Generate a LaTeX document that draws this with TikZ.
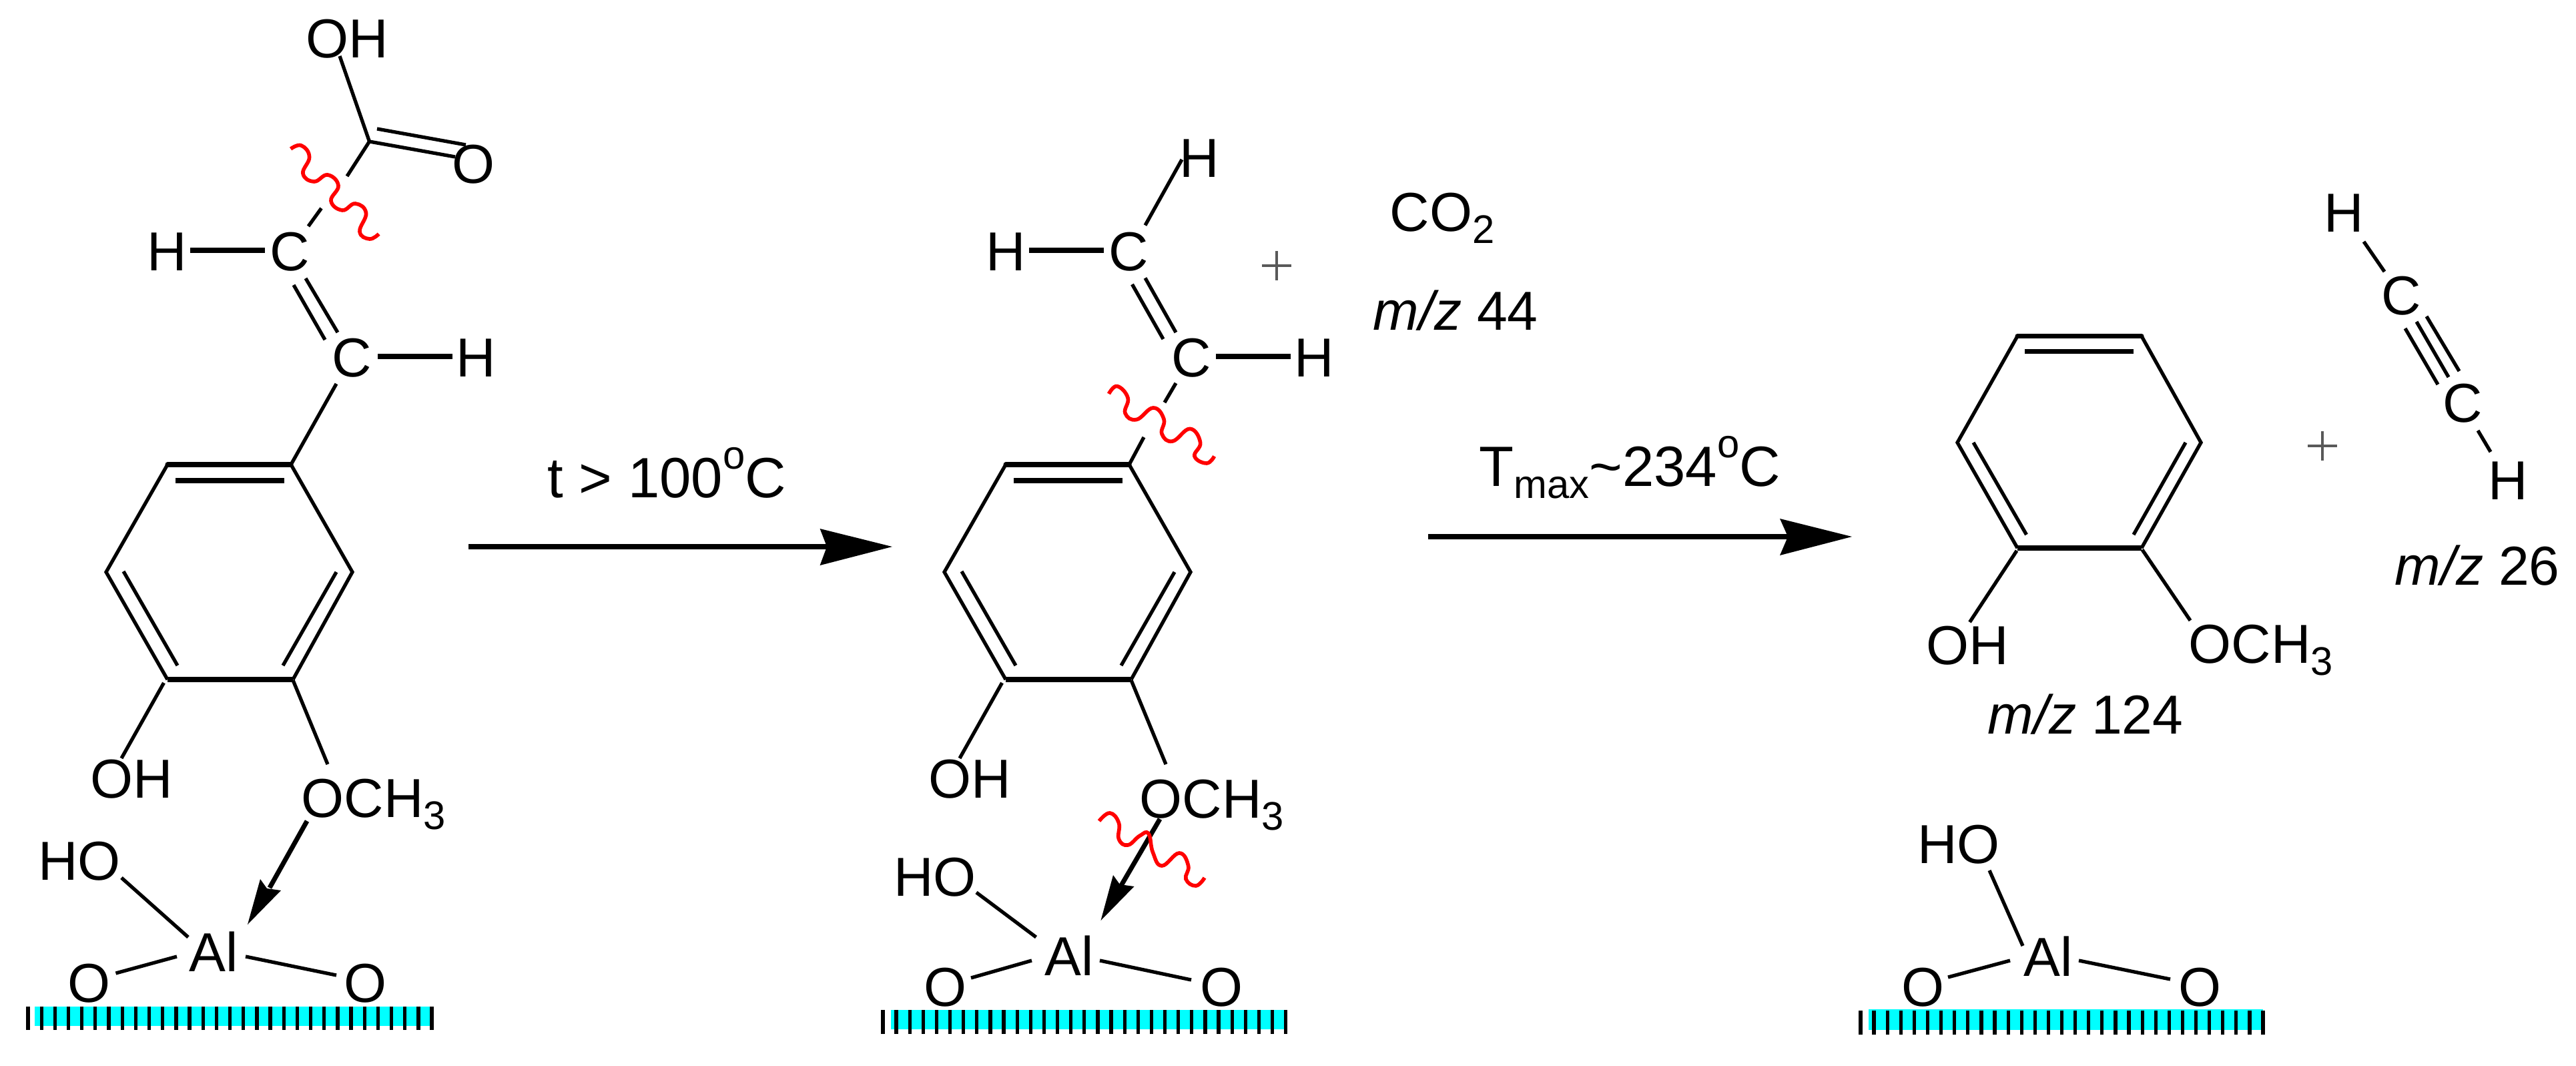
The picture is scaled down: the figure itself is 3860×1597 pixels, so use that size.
\documentclass[tikz,border=0pt]{standalone}
\usepackage{fontspec}
\setmainfont{Liberation Sans}
\definecolor{surf}{RGB}{0,255,255}
\newcommand{\lowr}[1]{\raisebox{-5.2pt}{\fontsize{17}{17}\selectfont #1}}
\newcommand{\upr}[1]{\raisebox{12pt}{\fontsize{17}{17}\selectfont #1}}
\tikzset{
  x=0.01cm,y=-0.01cm,
  atom/.style={inner sep=0pt,font=\fontsize{23.4}{28}\selectfont,text=black},
  lbl/.style={atom,anchor=base west},
  condlbl/.style={lbl,font=\fontsize{24.2}{28}\selectfont},
  bond/.style={line width=1.5pt,black},
  hbond/.style={line width=2pt,black},
  wave/.style={red,line width=1.6pt,smooth,tension=0.75},
  head/.style={fill=black,draw=none},
  cyanbar/.style={fill=surf,draw=none},
  tick/.style={line width=1.5pt,black},
  plussign/.style={line width=0.9pt,black!65},
  rarrow/.style={line width=2.2pt,black},
}
\begin{document}
\begin{tikzpicture}
\useasboundingbox (0,0) rectangle (3860,1597);
% ---- molecule 1
\node[atom] (a1) at (520,58) {OH};
\node[atom] (a2) at (709,246) {O};
\coordinate (a3) at (553.5,212);
\coordinate (a3b) at (565,193);
\coordinate (a3c) at (698,217);
\coordinate (a3d) at (682,235);
\coordinate (a3e) at (509,84);
\node[atom] (a4) at (434,377) {C};
\node[atom] (a5) at (250,377) {H};
\node[atom] (a6) at (527,536) {C};
\node[atom] (a7) at (713,536) {H};
\coordinate (r1) at (436,696);
\coordinate (r2) at (251,696);
\coordinate (r3) at (159,857);
\coordinate (r4) at (251,1018);
\coordinate (r5) at (439,1018);
\coordinate (r6) at (528,857);
\draw[bond] (a3e) -- (a3);
\draw[bond] (a3) -- (a3d);
\draw[bond] (a3b) -- (a3c);
\coordinate (b1) at (520,264); \coordinate (b2) at (481.5,312); \coordinate (b3) at (462,339);
\draw[bond] (a3) -- (b1);
\draw[bond] (b2) -- (b3);
\coordinate (b4) at (285,375); \coordinate (b5) at (397,375);
\draw[hbond] (b4) -- (b5);
\coordinate (b6) at (458,417); \coordinate (b7) at (506,498);
\coordinate (b8) at (440,427); \coordinate (b9) at (487,509);
\draw[bond] (b6) -- (b7); \draw[bond] (b8) -- (b9);
\coordinate (b10) at (566,534); \coordinate (b11) at (678,534);
\draw[hbond] (b10) -- (b11);
\coordinate (b12) at (504,575);
\draw[bond] (b12) -- (r1);
\draw[hbond,line cap=round] (r1) -- (r2);
\draw[bond] (r2) -- (r3) -- (r4);
\draw[hbond] (r4) -- (r5);
\draw[bond] (r5) -- (r6) -- (r1);
\coordinate (i1) at (263,720); \coordinate (i2) at (426,720);
\coordinate (i3) at (185,856); \coordinate (i4) at (266,997);
\coordinate (i5) at (504,857); \coordinate (i6) at (424,997);
\draw[hbond] (i1) -- (i2);
\draw[bond] (i3) -- (i4);
\draw[bond] (i5) -- (i6);
\node[atom] (a8) at (197,1167) {OH};
\node[lbl] (a9) at (451,1224) {OCH\lowr{3}};
\node[atom] (a10) at (119,1290) {HO};
\node[atom] (a11) at (320,1426) {Al};
\node[atom] (a12) at (134,1473) {O};
\node[atom] (a13) at (547,1473) {O};
\coordinate (c1) at (245.5,1023); \coordinate (c2) at (182,1136);
\draw[bond] (c1) -- (c2);
\coordinate (c3) at (439,1019); \coordinate (c4) at (491,1145);
\draw[bond] (c3) -- (c4);
\coordinate (c5) at (460,1230); \coordinate (c6) at (404,1330);
\draw[hbond] (c5) -- (c6);
\coordinate (c7) at (371,1385); \coordinate (c8) at (390,1317); \coordinate (c9) at (400,1331); \coordinate (c10) at (421,1334);
\fill[head] (c7) -- (c8) -- (c9) -- (c10) -- cycle;
\coordinate (c11) at (182,1315); \coordinate (c12) at (282,1404);
\draw[bond] (c11) -- (c12);
\coordinate (c13) at (173.5,1458); \coordinate (c14) at (265,1433);
\draw[bond] (c13) -- (c14);
\coordinate (c15) at (368,1433); \coordinate (c16) at (504,1461);
\draw[bond] (c15) -- (c16);
\fill[cyanbar] (52,1508) rectangle (647,1537);
\foreach \k in {0,...,30} \draw[tick] ({42+\k*20.17},1508) -- ({42+\k*20.17},1543);
\draw[wave] plot coordinates {(435.6,223) (451.5,218) (463.6,235) (454,260) (470.6,272) (491,262) (507,278) (496,301) (513,315) (532.5,305) (548.5,319) (539,347) (553.6,358) (567.6,350.5)};
% ---- arrow 1
\coordinate (s1) at (702,819); \coordinate (s2) at (1250,819);
\draw[rarrow] (s1) -- (s2);
\fill[head] (1337,819) -- (1228.6,792) -- (1239,819) -- (1228.6,847) -- cycle;
\node[condlbl] (t1) at (820,745) {t > 100\upr{o}C};
% ---- molecule 2
\node[atom] (m1) at (1797.6,237) {H};
\node[atom] (m2) at (1691,377) {C};
\node[atom] (m3) at (1507,377) {H};
\node[atom] (m4) at (1785,536) {C};
\node[atom] (m5) at (1969,536) {H};
\coordinate (n1) at (1716,337.5); \coordinate (n2) at (1771,239);
\draw[bond] (n1) -- (n2);
\coordinate (n3) at (1542,375); \coordinate (n4) at (1654,375);
\draw[hbond] (n3) -- (n4);
\coordinate (n5) at (1716,416.5); \coordinate (n6) at (1762,498);
\coordinate (n7) at (1696.5,426); \coordinate (n8) at (1743,508);
\draw[bond] (n5) -- (n6); \draw[bond] (n7) -- (n8);
\coordinate (n9) at (1822,534); \coordinate (n10) at (1934,534);
\draw[hbond] (n9) -- (n10);
\coordinate (n11) at (1762,574); \coordinate (n12) at (1745,603);
\coordinate (n13) at (1714,655);
\draw[bond] (n11) -- (n12);
\coordinate (q1) at (1692,696);
\coordinate (q2) at (1507,696);
\coordinate (q3) at (1415,857);
\coordinate (q4) at (1507,1018);
\coordinate (q5) at (1695,1018);
\coordinate (q6) at (1784,857);
\draw[bond] (n13) -- (q1);
\draw[hbond,line cap=round] (q1) -- (q2);
\draw[bond] (q2) -- (q3) -- (q4);
\draw[hbond] (q4) -- (q5);
\draw[bond] (q5) -- (q6) -- (q1);
\coordinate (j1) at (1519,720); \coordinate (j2) at (1682,720);
\coordinate (j3) at (1441,856); \coordinate (j4) at (1522,997);
\coordinate (j5) at (1760,857); \coordinate (j6) at (1680,997);
\draw[hbond] (j1) -- (j2);
\draw[bond] (j3) -- (j4);
\draw[bond] (j5) -- (j6);
\draw[wave] plot coordinates {(1661.5,590) (1674,578.6) (1690,596) (1686,619) (1703,628.6) (1728,611) (1744,628) (1741,650) (1757,661) (1783,642.4) (1798.6,663) (1790,683.5) (1808,694) (1819.6,683.5)};
\coordinate (p1) at (1891,398); \coordinate (p2) at (1935,398); \coordinate (p3) at (1913,376); \coordinate (p4) at (1913,420);
\draw[plussign] (p1) -- (p2); \draw[plussign] (p3) -- (p4);
\node[lbl] (co) at (2082,346) {CO\lowr{2}};
\node[lbl] (mz1) at (2057,494) {\textit{m/z} 44};
\node[atom] (m6) at (1453,1167) {OH};
\node[lbl] (m7) at (1707,1225) {OCH\lowr{3}};
\node[atom] (m8) at (1401,1314) {HO};
\node[atom] (m9) at (1602,1432) {Al};
\node[atom] (m10) at (1416,1479) {O};
\node[atom] (m11) at (1830,1479) {O};
\coordinate (e1) at (1501.5,1023); \coordinate (e2) at (1438,1136);
\draw[bond] (e1) -- (e2);
\coordinate (e3) at (1695,1019); \coordinate (e4) at (1747,1145);
\draw[bond] (e3) -- (e4);
\coordinate (e5) at (1738,1227); \coordinate (e6) at (1678,1330);
\draw[hbond] (e5) -- (e6);
\coordinate (e7) at (1649.5,1379); \coordinate (e8) at (1668,1311); \coordinate (e9) at (1678,1325); \coordinate (e10) at (1699.5,1328);
\fill[head] (e7) -- (e8) -- (e9) -- (e10) -- cycle;
\coordinate (e11) at (1463,1337); \coordinate (e12) at (1552.5,1404);
\draw[bond] (e11) -- (e12);
\coordinate (e13) at (1455,1465); \coordinate (e14) at (1546,1439);
\draw[bond] (e13) -- (e14);
\coordinate (e15) at (1648,1439); \coordinate (e16) at (1785,1468);
\draw[bond] (e15) -- (e16);
\fill[cyanbar] (1335,1513) rectangle (1926,1542);
\foreach \k in {0,...,30} \draw[tick] ({1323+\k*20.12},1513) -- ({1323+\k*20.12},1549);
\draw[wave] plot coordinates {(1647,1230) (1663,1218) (1676.5,1233) (1676.5,1257) (1690,1266) (1708,1252) (1721,1249) (1727.5,1277) (1741,1297) (1767,1278) (1780.6,1297) (1777,1317) (1792,1327) (1805,1315)};
% ---- arrow 2
\coordinate (s3) at (2140,804); \coordinate (s4) at (2690,804);
\draw[rarrow] (s3) -- (s4);
\fill[head] (2775,804) -- (2667,777) -- (2679,804) -- (2667,832) -- cycle;
\node[condlbl] (t2) at (2216,728) {T\lowr{max}\textasciitilde 234\upr{o}C};
% ---- molecule 3
\coordinate (u1) at (3209,503.6);
\coordinate (u2) at (3023,503.6);
\coordinate (u3) at (2933,663);
\coordinate (u4) at (3023,821);
\coordinate (u5) at (3209,821);
\coordinate (u6) at (3298,663);
\draw[hbond,line cap=round] (u1) -- (u2);
\draw[bond] (u2) -- (u3) -- (u4);
\draw[hbond] (u4) -- (u5);
\draw[bond] (u5) -- (u6) -- (u1);
\coordinate (k1) at (3034,526.5); \coordinate (k2) at (3197,526.5);
\coordinate (k3) at (2957,663); \coordinate (k4) at (3036.5,801);
\coordinate (k5) at (3275,663); \coordinate (k6) at (3197,801);
\draw[hbond] (k1) -- (k2);
\draw[bond] (k3) -- (k4);
\draw[bond] (k5) -- (k6);
\node[atom] (w1) at (2948,967) {OH};
\node[lbl] (w2) at (3279,993) {OCH\lowr{3}};
\node[lbl] (w3) at (2978,1099) {\textit{m/z} 124};
\coordinate (f1) at (3022,825); \coordinate (f2) at (2951.5,932);
\draw[bond] (f1) -- (f2);
\coordinate (f3) at (3210,823.5); \coordinate (f4) at (3282,929.6);
\draw[bond] (f3) -- (f4);
\node[atom] (w4) at (3512,319) {H};
\node[atom] (w5) at (3598,443) {C};
\node[atom] (w6) at (3690,604) {C};
\node[atom] (w7) at (3758,720) {H};
\coordinate (g1) at (3542,362); \coordinate (g2) at (3573,407);
\draw[bond] (g1) -- (g2);
\coordinate (g3) at (3636,474); \coordinate (g4) at (3685,556);
\coordinate (g5) at (3621,482); \coordinate (g6) at (3669,565);
\coordinate (g7) at (3604,492); \coordinate (g8) at (3653,576);
\draw[bond] (g3) -- (g4); \draw[bond] (g5) -- (g6); \draw[bond] (g7) -- (g8);
\coordinate (g9) at (3713,645); \coordinate (g10) at (3732,677);
\draw[bond] (g9) -- (g10);
\coordinate (p5) at (3458,668); \coordinate (p6) at (3502,668); \coordinate (p7) at (3480,646); \coordinate (p8) at (3480,690);
\draw[plussign] (p5) -- (p6); \draw[plussign] (p7) -- (p8);
\node[lbl] (w8) at (3588,876) {\textit{m/z} 26};
\node[atom] (w9) at (2935,1265) {HO};
\node[atom] (w10) at (3069,1433) {Al};
\node[atom] (w11) at (2881,1479) {O};
\node[atom] (w12) at (3296,1479) {O};
\coordinate (h1) at (2981,1304); \coordinate (h2) at (3031,1417);
\draw[bond] (h1) -- (h2);
\coordinate (h3) at (2919,1464); \coordinate (h4) at (3012,1439);
\draw[bond] (h3) -- (h4);
\coordinate (h5) at (3115,1439); \coordinate (h6) at (3252,1467);
\draw[bond] (h5) -- (h6);
\fill[cyanbar] (2799.5,1512) rectangle (3391,1543);
\foreach \k in {0,...,30} \draw[tick] ({2788+\k*20.1},1514) -- ({2788+\k*20.1},1549.5);
\end{tikzpicture}
\end{document}
